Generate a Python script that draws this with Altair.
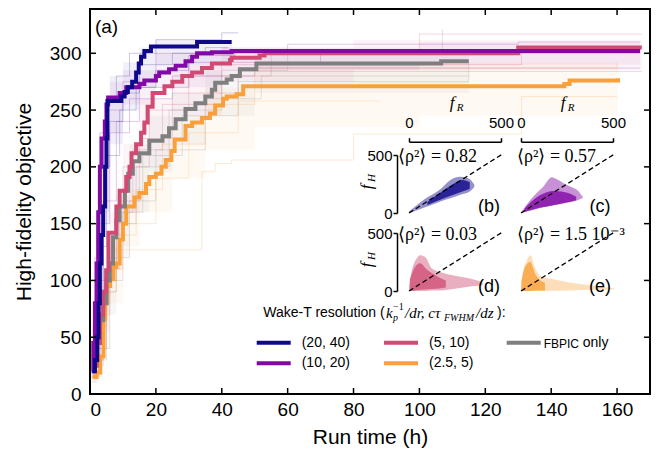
import altair as alt
import pandas as pd

# ---------------- data ----------------
SERIES = ["(20, 40)", "(10, 20)", "(5, 10)", "(2.5, 5)", "FBPIC only"]
COLORS = {"(20, 40)": "#10088a", "(10, 20)": "#8209a6", "(5, 10)": "#cf4b73",
          "(2.5, 5)": "#faa03a", "FBPIC only": "#7f7f7f"}

# bold curves (step-after): run time (h), objective
t_2040 = [0.8, 1.5, 2.2, 2.6, 3.0, 3.5, 4.0, 4.6, 5.0, 5.3, 9.5, 10.5, 11.5, 12.8, 14.0, 14.8, 15.5, 16.5, 18.5, 32.5, 43.0]
v_2040 = [20, 30, 50, 80, 115, 140, 165, 200, 225, 258, 262, 266, 270, 275, 283, 291, 297, 302, 306, 310, 310]
t_1020 = [0.5, 1.0, 1.5, 2.0, 2.5, 3.0, 3.5, 4.5, 5.0, 5.5, 9.0, 11.0, 15.0, 16.5, 20.0, 21.0, 24.0, 26.0, 29.0, 31.0, 32.5, 37.0, 43.0, 51.5, 167.0]
v_1020 = [20, 45, 80, 115, 160, 200, 225, 240, 255, 261, 265, 270, 273, 276, 280, 283, 286, 289, 293, 297, 300, 301, 302, 302, 302]
t_510 = [1.0, 2.0, 3.0, 4.0, 4.9, 5.6, 8.0, 9.0, 11.0, 12.0, 12.6, 14.0, 15.5, 16.5, 17.5, 19.0, 22.6, 25.0, 28.0, 31.0, 34.0, 37.0, 42.5, 43.0, 51.5, 53.0, 130.0, 167.5]
v_510 = [25, 45, 70, 90, 109, 142, 165, 179, 191, 200, 212, 220, 230, 239, 253, 265, 271, 275, 280, 283, 287, 291, 294, 296, 298, 300, 305, 305]
t_255 = [0.8, 2.0, 3.1, 4.1, 4.6, 5.1, 6.1, 7.1, 8.0, 9.0, 10.0, 11.0, 13.5, 15.0, 17.0, 18.0, 20.0, 21.7, 23.0, 24.7, 25.7, 29.0, 31.0, 34.0, 36.4, 38.0, 40.4, 41.5, 44.5, 46.5, 144.0, 145.6, 160.3]
v_255 = [15, 19, 33, 66, 80, 95, 101, 112, 115, 136, 150, 165, 173, 177, 185, 191, 194, 200, 206, 214, 224, 236, 239, 243, 247, 254, 260, 262, 264, 271, 273, 276, 278]
t_fb = [1.0, 2.0, 3.0, 4.0, 5.0, 6.0, 7.0, 8.0, 9.0, 10.6, 11.6, 13.0, 15.0, 18.0, 22.0, 24.0, 26.0, 29.0, 32.0, 35.0, 37.0, 38.0, 41.5, 43.0, 45.5, 50.5, 106.6, 115.0]
v_fb = [25, 45, 65, 80, 100, 115, 138, 153, 165, 179, 194, 205, 212, 223, 227, 234, 242, 251, 256, 262, 268, 274, 277, 280, 286, 291, 293, 293]
BOLD = {"(20, 40)": (t_2040, v_2040), "(10, 20)": (t_1020, v_1020), "(5, 10)": (t_510, v_510),
        "(2.5, 5)": (t_255, v_255), "FBPIC only": (t_fb, v_fb)}

# light spread bands: time, lower, upper
BANDS = {
    "(20, 40)": ([0.5, 2, 4, 6, 10, 15, 20, 43], [10, 60, 150, 220, 250, 270, 290, 300], [30, 140, 230, 280, 292, 305, 312, 318]),
    "(10, 20)": ([0.5, 2, 4, 6, 10, 20, 40, 100, 167], [15, 80, 160, 230, 255, 270, 285, 290, 295], [35, 150, 230, 275, 285, 300, 305, 310, 312]),
    "(5, 10)": ([1, 3, 6, 10, 15, 25, 40, 80, 167.5], [15, 55, 110, 160, 200, 245, 275, 285, 290], [40, 95, 160, 220, 260, 290, 305, 312, 318]),
    "FBPIC only": ([1, 4, 8, 12, 18, 25, 35, 50, 115], [15, 70, 120, 160, 195, 220, 245, 265, 270], [40, 110, 175, 220, 245, 265, 285, 300, 310]),
    "(2.5, 5)": ([1, 3, 6, 10, 15, 25, 35, 50, 100, 160.3], [10, 40, 80, 130, 160, 190, 215, 235, 245, 258], [35, 80, 130, 180, 200, 245, 270, 290, 292, 292]),
}

# individual runs (faint)
RUNS = [
    ("(20, 40)", [0.5, 1, 2, 3, 5, 8, 12, 20, 40, 45], [15, 60, 150, 230, 260, 280, 300, 312, 318, 318]),
    ("(20, 40)", [0.5, 2, 4, 6, 10, 15, 25, 35, 42], [20, 100, 200, 240, 265, 290, 300, 305, 305]),
    ("(20, 40)", [1, 3, 5, 9, 14, 20, 30, 44], [30, 130, 210, 250, 270, 285, 298, 302]),
    ("(10, 20)", [0.5, 1.5, 3, 5, 10, 20, 60, 130, 167], [20, 120, 200, 250, 275, 300, 308, 310, 310]),
    ("(10, 20)", [1, 3, 6, 12, 25, 50, 167], [40, 150, 230, 260, 280, 287, 287]),
    ("(10, 20)", [0.8, 2, 4, 8, 15, 30, 70, 167], [25, 90, 170, 240, 270, 292, 300, 300]),
    ("(5, 10)", [1, 3, 6, 10, 18, 30, 55, 100, 167.5], [25, 80, 140, 200, 250, 280, 300, 317, 317]),
    ("(5, 10)", [2, 5, 9, 15, 25, 45, 167.5], [40, 110, 170, 225, 265, 284, 284]),
    ("(5, 10)", [1.5, 4, 8, 13, 22, 40, 131, 167.5], [30, 100, 160, 215, 255, 290, 305, 305]),
    ("FBPIC only", [1, 4, 8, 14, 24, 40, 60, 107], [25, 90, 150, 200, 250, 285, 300, 321]),
    ("FBPIC only", [2, 6, 12, 20, 35, 52, 115], [40, 120, 170, 215, 260, 280, 280]),
    ("FBPIC only", [1.5, 5, 10, 16, 28, 45, 115], [30, 100, 160, 210, 245, 275, 292]),
    ("(2.5, 5)", [1, 2, 5, 10, 20, 30, 45, 88], [20, 60, 110, 150, 190, 230, 258, 258]),
    ("(2.5, 5)", [1, 3, 6, 34, 38, 43, 80, 131, 160], [20, 70, 127, 196, 203, 206, 229, 262, 262]),
    ("(2.5, 5)", [1.5, 4, 8, 14, 22, 35, 50, 160], [30, 90, 140, 180, 220, 255, 287, 291]),
]

# inset clouds: f_R, lower f_H, upper f_H (outer envelope and dense core)
CLOUDS = {
    "b": {"color": "#10088a",
          "outer": ([0, 80, 170, 225, 280, 330, 355], [0, 45, 100, 128, 158, 185, 225], [12, 115, 205, 285, 312, 292, 245]),
          "inner": ([100, 170, 230, 290, 330], [70, 115, 150, 185, 210], [95, 175, 240, 285, 265])},
    "c": {"color": "#8209a6",
          "outer": ([0, 67, 104, 122, 167, 195, 231, 285, 304, 336], [0, 25, 43, 50, 62, 71, 82, 100, 108, 129], [5, 143, 200, 229, 309, 290, 257, 215, 200, 137]),
          "inner": ([20, 100, 180, 260, 300], [10, 45, 70, 95, 110], [40, 150, 190, 170, 140])},
    "d": {"color": "#cf4b73",
          "outer": ([0, 20, 41, 60, 88, 126, 173, 248, 342, 400], [0, 0, 0, 0, 0, 5, 5, 20, 40, 50], [40, 206, 279, 309, 294, 191, 162, 132, 103, 74]),
          "inner": ([5, 30, 60, 100, 150, 200], [0, 5, 10, 15, 20, 30], [100, 200, 240, 180, 130, 90])},
    "e": {"color": "#faa03a",
          "outer": ([0, 10, 28, 52, 75, 103, 169, 262, 412, 506], [0, 0, 0, 0, 0, 0, 2, 5, 10, 15], [20, 150, 250, 309, 206, 132, 103, 74, 44, 24]),
          "inner": ([2, 20, 50, 80, 130], [0, 0, 0, 5, 5], [80, 200, 250, 140, 70])},
}
RHO = {"b": "⟨ρ²⟩ = 0.82", "c": "⟨ρ²⟩ = 0.57", "d": "⟨ρ²⟩ = 0.03", "e": "⟨ρ²⟩ = 1.5 10⁻³"}
DIAG = [0, 510]

# ---------------- layout ----------------
W, H = 560, 385
OX, OY = 90, 9          # page position of plot origin


def rx(x):
    return x - OX


def ry(y):
    return y - OY


SANS = "Liberation Sans"
SERIF = "Liberation Serif"

xs_main = alt.Scale(domain=[0, 170], nice=False, zero=False)
ys_main = alt.Scale(domain=[0, 339], nice=False, zero=False)
X_AXIS = alt.Axis(values=list(range(0, 161, 20)), ticks=False, tickSize=0, domain=False, grid=False,
                  labelFontSize=19, labelPadding=6, labelFont=SANS, labelColor="black",
                  title="Run time (h)", titleFontSize=21, titleFont=SANS, titleFontWeight="normal",
                  titleColor="black", titleY=43, titleBaseline="middle")
Y_AXIS = alt.Axis(values=list(range(0, 301, 50)), ticks=False, tickSize=0, domain=False, grid=False,
                  labelFontSize=19, labelPadding=9, labelFont=SANS, labelColor="black",
                  title="High-fidelity objective", titleFontSize=21, titleFont=SANS,
                  titleFontWeight="normal", titleColor="black", titleX=-66, titleBaseline="middle")

ORDER = ["(2.5, 5)", "FBPIC only", "(5, 10)", "(10, 20)", "(20, 40)"]
main_layers = []
for name in ORDER:
    bt, blo, bhi = BANDS[name]
    dfb = pd.DataFrame({"t": bt, "lo": blo, "hi": bhi})
    main_layers.append(
        alt.Chart(dfb).mark_area(interpolate="step-after", color=COLORS[name], opacity=0.06).encode(
            x=alt.X("t:Q", scale=xs_main, axis=X_AXIS),
            y=alt.Y("lo:Q", scale=ys_main, axis=Y_AXIS),
            y2="hi:Q"))
for name, rt, rv in RUNS:
    dfr = pd.DataFrame({"t": rt, "v": rv})
    main_layers.append(
        alt.Chart(dfr).mark_line(interpolate="step-after", color=COLORS[name], opacity=0.22, strokeWidth=1).encode(
            x=alt.X("t:Q", scale=xs_main, axis=X_AXIS),
            y=alt.Y("v:Q", scale=ys_main, axis=Y_AXIS)))
for name in ORDER:
    bt, bv = BOLD[name]
    dfl = pd.DataFrame({"t": bt, "v": bv})
    main_layers.append(
        alt.Chart(dfl).mark_line(interpolate="step-after", color=COLORS[name], strokeWidth=4).encode(
            x=alt.X("t:Q", scale=xs_main, axis=X_AXIS),
            y=alt.Y("v:Q", scale=ys_main, axis=Y_AXIS)))

# inward ticks on the frame
xt = pd.DataFrame({"v": list(range(0, 161, 20))})
yt = pd.DataFrame({"v": list(range(0, 301, 50))})
for y0, y1 in [(H, H - 6), (0, 6)]:
    main_layers.append(alt.Chart(xt).mark_rule(color="black", strokeWidth=1.5).encode(
        x=alt.X("v:Q", scale=xs_main, axis=X_AXIS), y=alt.value(y0), y2=alt.value(y1)))
for x0, x1 in [(0, 6), (W, W - 6)]:
    main_layers.append(alt.Chart(yt).mark_rule(color="black", strokeWidth=1.5).encode(
        y=alt.Y("v:Q", scale=ys_main, axis=Y_AXIS), x=alt.value(x0), x2=alt.value(x1)))

main = alt.layer(*main_layers)

# ---------------- insets ----------------
PANEL_X = {"b": (409, 501), "c": (521, 613), "d": (409, 501), "e": (521, 613)}
PANEL_Y = {"b": (213, 155), "c": (213, 155), "d": (291, 233), "e": (291, 233)}
OPAC = {"b": (0.45, 0.8), "c": (0.45, 0.8), "d": (0.45, 0.75), "e": (0.35, 0.8)}


def inset(key, show_x, show_y):
    x0, x1 = PANEL_X[key]
    y0, y1 = PANEL_Y[key]
    xs = alt.Scale(domain=[0, 500], range=[rx(x0), rx(x1)], nice=False, zero=False)
    ys = alt.Scale(domain=[0, 500], range=[ry(y0), ry(y1)], nice=False, zero=False)
    if show_x:
        xa = alt.Axis(orient="top", offset=-ry(141.7), values=[0, 500], title=None, grid=False,
                      tickSize=4, tickColor="black", tickWidth=1.5, domainColor="black", domainWidth=1.5,
                      labelFontSize=15, labelFont=SANS, labelColor="black", labelPadding=7, labelFlush=False)
    else:
        xa = None
    if show_y:
        ya = alt.Axis(orient="left", offset=-rx(397), values=[0, 500], title=None, grid=False,
                      tickSize=4, tickColor="black", tickWidth=1.5, domainColor="black", domainWidth=1.5,
                      labelFontSize=15, labelFont=SANS, labelColor="black", labelPadding=1, labelFlush=False)
    else:
        ya = None
    c = CLOUDS[key]
    ls = []
    for part, op in zip(["outer", "inner"], OPAC[key]):
        r, lo, hi = c[part]
        d = pd.DataFrame({"r": r, "lo": lo, "hi": hi})
        ls.append(alt.Chart(d).mark_area(color=c["color"], opacity=op, interpolate="monotone").encode(
            x=alt.X("r:Q", scale=xs, axis=xa), y=alt.Y("lo:Q", scale=ys, axis=ya), y2="hi:Q"))
    dd = pd.DataFrame({"r": DIAG, "f": DIAG})
    ls.append(alt.Chart(dd).mark_line(color="black", strokeDash=[5, 3], strokeWidth=1.3).encode(
        x=alt.X("r:Q", scale=xs, axis=xa), y=alt.Y("f:Q", scale=ys, axis=ya)))
    return alt.layer(*ls)


insets = [inset("b", True, True), inset("c", True, False), inset("d", False, True), inset("e", False, False)]

# ---------------- text ----------------
ONE = pd.DataFrame({"k": [0]})


def txt(s, x, y, size, font=SANS, style="normal", align="center", angle=0, color="black"):
    return alt.Chart(ONE).mark_text(text=s, fontSize=size, font=font, fontStyle=style, align=align,
                                    baseline="middle", angle=angle, color=color).encode(
        x=alt.value(rx(x)), y=alt.value(ry(y)))


texts = [txt("(a)", 106.5, 27, 19)]
for key, (x, y) in {"b": (398, 157), "c": (517, 157), "d": (398, 235), "e": (517, 235)}.items():
    texts.append(txt(RHO[key], x, y, 18, font=SERIF, align="left"))
for key, (x, y) in {"b": (489, 207), "c": (600, 207), "d": (489, 287), "e": (600, 287)}.items():
    texts.append(txt("(" + key + ")", x, y, 18))
for x in [452, 563]:
    texts.append(txt("f", x, 103, 17, font=SERIF, style="italic"))
    texts.append(txt("R", x + 8, 108, 11, font=SERIF, style="italic"))
for y in [187, 265]:
    texts.append(txt("f", 367, y, 17, font=SERIF, style="italic", angle=270))
    texts.append(txt("H", 372, y - 9, 11, font=SERIF, style="italic", angle=270))

# legend title
texts += [
    txt("Wake-T resolution (", 263.3, 313.3, 14, align="left"),
    txt("k", 386, 313.3, 15, font=SERIF, style="italic", align="left"),
    txt("p", 393, 318, 10, font=SERIF, style="italic", align="left"),
    txt("−1", 393, 307, 10, font=SERIF, align="left"),
    txt("/dr, cτ", 405, 313.3, 15, font=SERIF, style="italic", align="left"),
    txt("FWHM", 444, 318, 10, font=SERIF, style="italic", align="left"),
    txt("/dz", 476, 313.3, 15, font=SERIF, style="italic", align="left"),
    txt("):", 497, 313.3, 14, align="left"),
]

# legend entries (manual)
LEG = [("(20, 40)", 256.7, 342.7), ("(10, 20)", 256.7, 363.3), ("(5, 10)", 384, 342.7),
       ("(2.5, 5)", 384, 363.3), ("FBPIC only", 506.7, 342.7)]
for name, x, y in LEG:
    texts.append(alt.Chart(ONE).mark_rule(color=COLORS[name], strokeWidth=4).encode(
        x=alt.value(rx(x)), x2=alt.value(rx(x + 34)), y=alt.value(ry(y))))
    if name == "FBPIC only":
        texts.append(txt("FBPIC", x + 37, y + 1, 12, align="left"))
        texts.append(txt("only", x + 76, y, 14, align="left"))
    else:
        texts.append(txt(name, x + 45, y, 14, align="left"))

chart = alt.layer(main, *insets, *texts).resolve_scale(x="independent", y="independent").properties(
    width=W, height=H,
    padding={"left": 82, "top": 1, "right": 4, "bottom": 60},
    autosize=alt.AutoSizeParams(type="none"),
    background="white",
).configure_view(stroke="black", strokeWidth=2)

chart.save("out.html", embed_options={"renderer": "svg", "actions": False})
